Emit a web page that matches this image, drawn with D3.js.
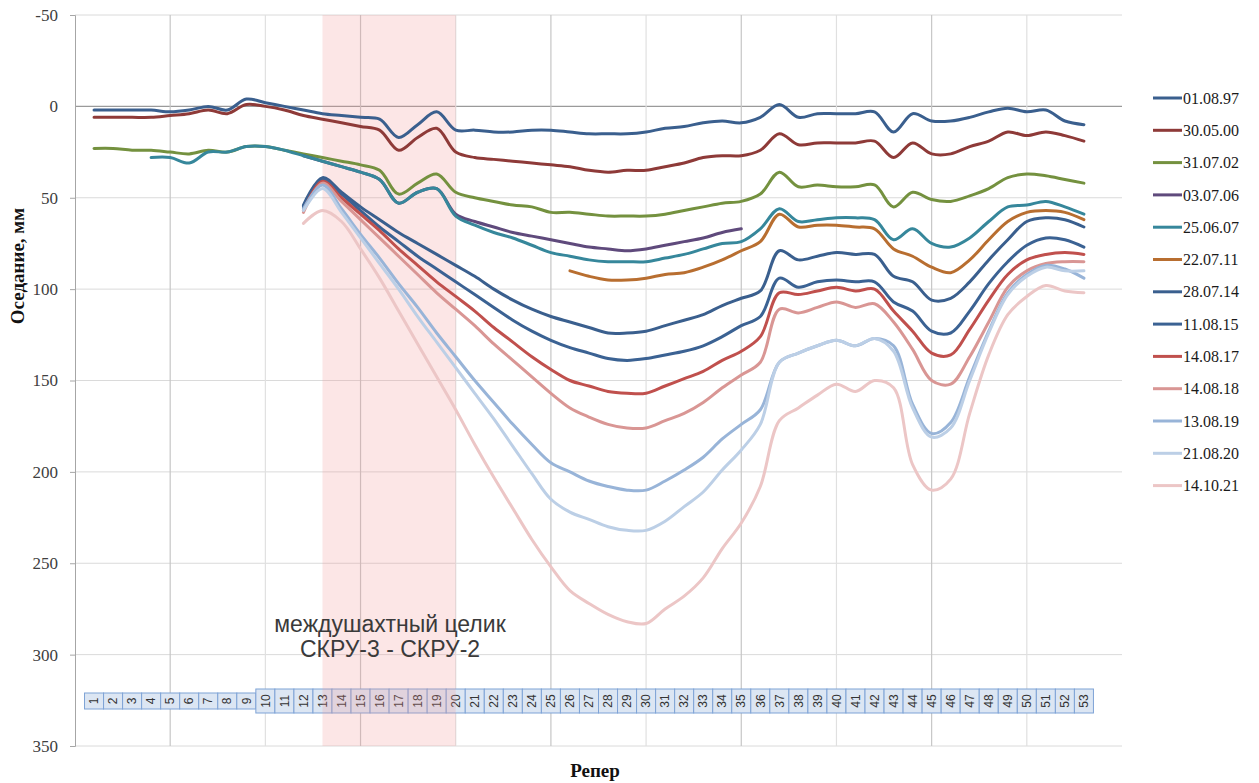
<!DOCTYPE html>
<html>
<head>
<meta charset="utf-8">
<script src="https://cdn.jsdelivr.net/npm/d3@7"></script>
<style>
  html, body { margin: 0; padding: 0; background: #fff; }
  svg { display: block; }
</style>
</head>
<body>
<svg id="chart" width="1259" height="783"></svg>
<script>
// Survey benchmarks (репер numbers) along the profile line
const repers = [1,2,3,4,5,6,7,8,9,10,11,12,13,14,15,16,17,18,19,20,21,22,23,24,25,26,27,
  28,29,30,31,32,33,34,35,36,37,38,39,40,41,42,43,44,45,46,47,48,49,50,51,52,53];

// Subsidence, mm, per benchmark for each survey date (null = not measured)
const s010897 = [2,2,2,2,3,2,0,2,-4,-2, 0,2,4,5,6,7,17,10,3,13, 13,14,14,13,13,14,15,15,15,14,
  12,11,9,8,9,6,-1,6,4,4, 4,3,14,4,8,8,6,3,1,3, 2,8,10];
const s300500 = [6,6,6,6,5,4,2,4,-1,0, 2,5,7,9,11,13,24,17,12,25, 28,29,30,31,32,33,35,36,35,35,
  33,31,28,27,27,24,15,21,20,20, 20,19,28,20,26,26,22,19,14,16, 14,16,19];
const s310702 = [23,23,24,24,25,26,24,25,22,22, 24,26,28,30,32,35,48,42,37,47, 50,52,54,55,58,58,59,60,60,60,
  59,57,55,53,52,48,36,44,43,44, 44,43,55,47,51,52,49,45,39,37, 38,40,42];
const s030706 = [null,null,null,null,null,null,null,null,null,null, null,27,30,33,36,40,53,47,45,59,
  63,66,69,71,73,75,77,78,79,78, 76,74,72,69,67,null,null,null,null,null,
  null,null,null,null,null,null,null,null,null,null, null,null,null];
const s250607 = [null,null,null,28,28,31,25,25,22,22, 24,27,30,33,36,40,53,47,45,60, 65,69,72,76,80,82,84,85,85,85,
  83,81,78,75,74,67,56,63,62,61, 61,62,73,67,75,77,72,63,55,54, 52,55,59];
const s220711 = [null,null,null,null,null,null,null,null,null,null, null,null,null,null,null,null,null,null,null,null,
  null,null,null,null,null,90,93,95,95,94, 92,91,88,84,79,74,59,66,65,65, 66,67,78,82,88,91,84,73,63,58, 57,58,62];
const s280714 = [null,null,null,null,null,null,null,null,null,null, null,54,39,47,55,62,69,75,81,87,
  93,100,106,111,115,118,121,124,124,123, 120,117,114,109,105,101,79,84,82,80, 81,81,93,96,106,105,96,84,73,63, 61,62,66];
const s110815 = [null,null,null,null,null,null,null,null,null,null, null,55,40,48,57,66,74,82,89,96,
  103,110,117,123,128,132,135,138,139,138, 136,134,131,126,120,115,94,99,96,95, 96,96,107,112,123,124,112,97,85,76, 72,73,77];
const s140817 = [null,null,null,null,null,null,null,null,null,null, null,57,41,50,59,68,78,87,96,104,
  112,121,129,137,144,150,153,156,157,157, 153,149,145,139,134,126,102,103,101,99, 101,100,112,123,135,136,122,106,92,84, 81,80,81];
const s140818 = [null,null,null,null,null,null,null,null,null,null, null,58,42,52,62,72,82,92,102,111,
  120,130,139,148,157,165,170,174,176,176, 172,168,162,154,147,140,111,113,110,107, 110,108,118,133,150,152,137,118,99,90, 86,85,85];
const s130819 = [null,null,null,null,null,null,null,null,null,null, null,56,43,56,70,83,97,110,124,137,
  150,162,174,185,195,200,205,208,210,210, 205,199,192,182,174,166,140,135,131,128, 131,127,131,163,179,173,148,123,102,92, 87,89,94];
const s210820 = [null,null,null,null,null,null,null,null,null,null, null,57,45,58,72,86,100,115,129,143,
  157,171,186,201,215,222,226,230,232,232, 227,219,211,199,188,174,140,135,131,128, 131,127,134,165,181,176,150,124,103,93, 88,90,90];
const s141021 = [null,null,null,null,null,null,null,null,null,null, null,64,57,63,78,94,112,130,148,166,
  185,203,220,237,252,265,272,278,282,283, 275,268,258,242,228,208,172,165,158,152, 156,150,154,196,210,204,168,136,114,104, 98,101,102];

const seriesNames = ["01.08.97","30.05.00","31.07.02","03.07.06","25.06.07","22.07.11","28.07.14",
  "11.08.15","14.08.17","14.08.18","13.08.19","21.08.20","14.10.21"];
const seriesValues = [s010897,s300500,s310702,s030706,s250607,s220711,s280714,
  s110815,s140817,s140818,s130819,s210820,s141021];
const seriesColors = ["#3a5f8e","#8e3a38","#74913f","#5f4a7c","#36879b","#b86e30","#3a5f8e",
  "#3b6293","#c0504d","#d99694","#98b4d8","#bccfe6","#ecc6c6"];

const yTicks = [-50,0,50,100,150,200,250,300,350];
const pillarRange = [13, 20];   // inter-mine pillar, benchmarks 13..20
const pillarLabel = ["междушахтный целик", "СКРУ-3 - СКРУ-2"];

const svg = d3.select("#chart");
const x = d3.scaleLinear().domain([0, 55]).range([75, 1122]);
const y = d3.scaleLinear().domain([-50, 350]).range([15, 746]);

// horizontal gridlines
svg.append("g").selectAll("line").data(yTicks).join("line")
  .attr("x1", x(0)).attr("x2", x(55))
  .attr("y1", d => y(d)).attr("y2", d => y(d))
  .attr("stroke", d => d === 0 ? "#9a9a9a" : "#dadada")
  .attr("stroke-width", d => d === 0 ? 1.3 : 1);

// vertical gridlines every 5 benchmarks
const vGrid = [5,10,15,20,25,30,35,40,45,50];
svg.append("g").selectAll("line").data(vGrid).join("line")
  .attr("x1", d => x(d)).attr("x2", d => x(d))
  .attr("y1", y(-50)).attr("y2", y(350))
  .attr("stroke", (d, i) => i % 2 === 0 ? "#c6c6c6" : "#e0e0e0")
  .attr("stroke-width", 1.2);

// left value axis
const yAxis = svg.append("g").attr("transform", `translate(${x(0)},0)`)
  .call(d3.axisLeft(y).tickValues(yTicks).tickSize(5).tickPadding(12).tickFormat(d => String(d)));
yAxis.select(".domain").attr("stroke", "#a6a6a6");
yAxis.selectAll(".tick line").attr("stroke", "#a6a6a6");
yAxis.selectAll("text").attr("font-family", "'Liberation Serif', 'Times New Roman', serif")
  .attr("font-size", 17).attr("fill", "#404040");
yAxis.selectAll(".tick line").filter(d => d === 0).remove();

// benchmark number boxes
const boxW = x(1) - x(0);
const boxes = svg.append("g");
const boxG = boxes.selectAll("g").data(repers).join("g")
  .attr("transform", d => `translate(${x(d)},0)`);
boxG.append("rect")
  .attr("x", -boxW / 2).attr("width", boxW)
  .attr("y", d => d < 10 ? 693 : 689)
  .attr("height", d => d < 10 ? 16 : 24)
  .attr("fill", "#dce6f3").attr("stroke", "#7ea3d6").attr("stroke-width", 1);
boxG.append("text")
  .attr("transform", "translate(0,701) rotate(-90)")
  .attr("text-anchor", "middle").attr("dy", "0.35em")
  .attr("font-family", "'Liberation Sans', Arial, sans-serif").attr("font-size", 12)
  .attr("fill", "#333").text(d => d);

// pillar zone band
svg.append("rect")
  .attr("x", x(pillarRange[0])).attr("width", x(pillarRange[1]) - x(pillarRange[0]))
  .attr("y", y(-50)).attr("height", y(350) - y(-50))
  .attr("fill", "rgb(242,150,150)").attr("fill-opacity", 0.24);

// survey lines
const line = d3.line()
  .defined(d => d.v !== null)
  .x(d => x(d.r)).y(d => y(d.v))
  .curve(d3.curveCatmullRom.alpha(0.5));
const lines = svg.append("g").attr("fill", "none");
seriesValues.forEach((vals, i) => {
  const pts = repers.map((r, j) => ({ r, v: vals[j] }));
  lines.append("path").datum(pts)
    .attr("d", line)
    .attr("stroke", seriesColors[i])
    .attr("stroke-width", 3)
    .attr("stroke-linejoin", "round").attr("stroke-linecap", "round");
});

// pillar annotation
const ann = svg.append("text")
  .attr("font-family", "'Liberation Sans', Arial, sans-serif").attr("font-size", 23)
  .attr("fill", "#3a3a3a").attr("text-anchor", "middle");
ann.append("tspan").attr("x", 390).attr("y", 632).text(pillarLabel[0]);
ann.append("tspan").attr("x", 390).attr("y", 657).text(pillarLabel[1]);

// legend
const legend = svg.append("g").attr("transform", "translate(1153,98)");
const li = legend.selectAll("g").data(seriesNames).join("g")
  .attr("transform", (d, i) => `translate(0,${i * 32.3})`);
li.append("line").attr("x1", 0).attr("x2", 29).attr("y1", 0).attr("y2", 0)
  .attr("stroke", (d, i) => seriesColors[i]).attr("stroke-width", 3);
li.append("text").attr("x", 30).attr("dy", "0.35em")
  .attr("font-family", "'Liberation Serif', 'Times New Roman', serif").attr("font-size", 16)
  .attr("fill", "#1a1a1a").text(d => d);

// axis titles
svg.append("text")
  .attr("transform", "translate(24,266) rotate(-90)")
  .attr("text-anchor", "middle")
  .attr("font-family", "'Liberation Serif', 'Times New Roman', serif")
  .attr("font-weight", "bold").attr("font-size", 19).attr("fill", "#111")
  .text("Оседание, мм");
svg.append("text")
  .attr("x", 595).attr("y", 777).attr("text-anchor", "middle")
  .attr("font-family", "'Liberation Serif', 'Times New Roman', serif")
  .attr("font-weight", "bold").attr("font-size", 19).attr("fill", "#111")
  .text("Репер");
</script>
</body>
</html>
